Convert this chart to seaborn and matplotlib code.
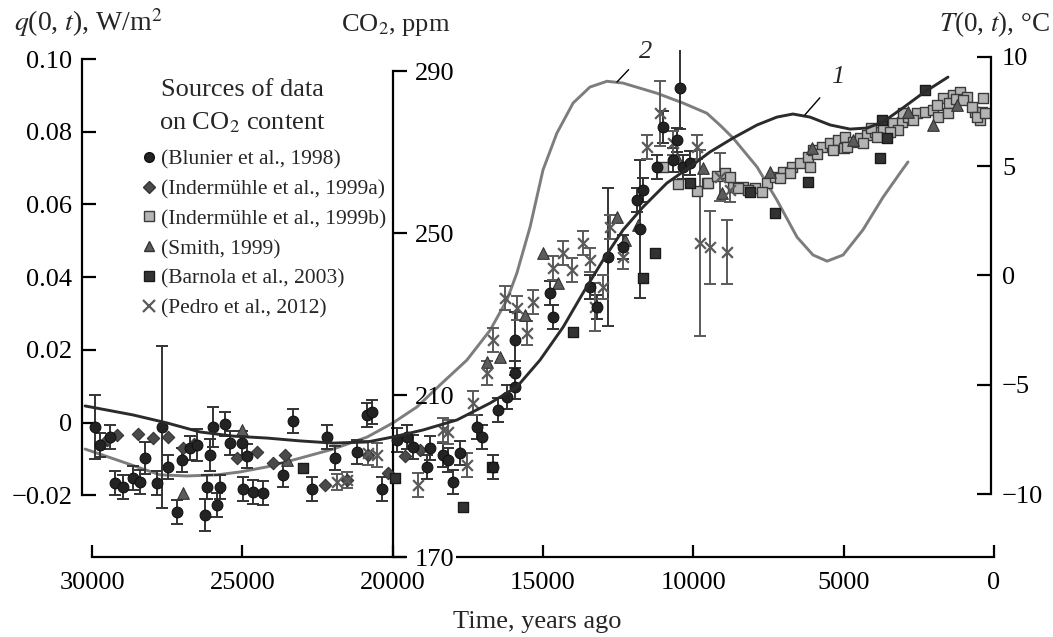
import matplotlib
matplotlib.use('Agg')
import matplotlib.pyplot as plt
from matplotlib.lines import Line2D
from matplotlib.patches import Rectangle
import seaborn as sns

# model curves (years ago)
curve1_years = [30230, 28640, 27500, 26410, 25310, 24180, 23080, 21980, 20850, 19990,
                18990, 17860, 16760, 15870, 15100, 14330, 13670, 13000, 12340, 11670,
                10880, 10110, 9450, 8680, 7880, 7220, 6690, 6120, 5450, 4790,
                4220, 3690, 3030, 2360, 1530]
curve1_T = [-5.97, -6.38, -6.75, -7.16, -7.35, -7.44, -7.57, -7.67, -7.62, -7.39,
            -7.07, -6.61, -5.84, -5.10, -3.87, -2.36, -0.80, 0.71, 2.08, 3.14,
            4.23, 4.97, 5.65, 6.29, 6.89, 7.25, 7.39, 7.25, 6.89, 6.70,
            6.75, 7.03, 7.67, 8.35, 9.08]

curve2_years = [30230, 29170, 28400, 27740, 26840, 25840, 25080, 24180, 23080, 21980,
                20850, 19990, 19190, 18430, 17530, 16760, 16200, 15870, 15430, 15000,
                14540, 14000, 13440, 12870, 12340, 11210, 10340, 9550, 9110, 8680,
                7880, 7220, 6550, 6020, 5550, 5020, 4360, 3690, 3130, 2860]
curve2_q = [-0.0073, -0.0103, -0.0125, -0.0144, -0.0147, -0.0144, -0.0136, -0.0122, -0.0098, -0.0073,
            -0.0040, -0.0001, 0.0043, 0.0103, 0.0172, 0.0254, 0.0337, 0.0411, 0.0538, 0.0695,
            0.0796, 0.0879, 0.0923, 0.0939, 0.0934, 0.0906, 0.0879, 0.0851, 0.0818, 0.0783,
            0.0703, 0.0612, 0.0510, 0.0461, 0.0444, 0.0461, 0.0530, 0.0620, 0.0686, 0.0717]

# CO2 data, ppm
blunier_years = [29900, 29740, 29400, 29240, 28970, 28640, 28400, 28240, 27840, 27670,
                 27470, 27170, 27010, 26740, 26510, 26240, 26180, 26080, 25980, 25840,
                 25740, 25580, 25410, 25010, 24980, 24850, 24650, 24310, 23650, 23320,
                 22680, 22180, 21920, 21190, 20850, 20690, 20360, 19860, 19520, 19320,
                 18860, 18760, 18330, 18160, 17990, 17760, 17200, 17030, 16660, 16500,
                 16200, 15930, 15930, 15930, 14770, 14670, 13440, 13200, 12840, 12340,
                 11870, 11770, 11670, 11210, 11010, 10680, 10540, 10440, 10340, 10110]
blunier_ppm = [202.1, 197.7, 199.6, 188.3, 187.3, 189.5, 188.5, 194.4, 188.3, 202.1,
               192.2, 181.1, 194.0, 196.9, 197.7, 180.4, 187.3, 195.2, 202.1, 182.8,
               187.3, 202.8, 198.1, 198.1, 186.8, 194.9, 186.0, 185.8, 190.2, 203.6,
               186.8, 199.6, 194.4, 195.9, 205.1, 205.8, 186.8, 198.9, 199.6, 197.2,
               192.2, 196.9, 195.2, 194.0, 188.5, 195.7, 202.1, 199.6, 192.2, 206.3,
               209.5, 212.0, 215.4, 223.6, 235.2, 229.3, 236.7, 231.7, 244.0, 246.5,
               258.1, 251.0, 260.6, 266.3, 276.2, 268.0, 273.0, 285.8, 266.3, 267.3]
blunier_err = [8, 3, 3, 3, 3, 3, 3, 4, 3, 20,
               3, 3, 3, 3, 4, 4, 3, 4, 5, 3,
               3, 3, 3, 3, 3, 3, 3, 3, 3, 3,
               3, 3, 3, 3, 3, 3, 3, 3, 3, 3,
               3, 3, 3, 3, 3, 3, 3, 3, 3, 3,
               3, 3, 3, 7, 3, 3, 3, 3, 17, 3,
               3, 17, 3, 3, 4, 3, 3, 10, 3, 3]

inderm_a_years = [29500, 29170, 28470, 27970, 27470, 26970, 26600, 25180, 24510, 23980,
                  23580, 22250, 21520, 20820, 20160, 19600, 19100]
inderm_a_ppm = [199.0, 200.1, 200.4, 199.4, 199.6, 196.9, 198.0, 194.4, 195.9, 193.2,
                195.2, 187.8, 189.0, 195.2, 190.7, 195.0, 196.5]

inderm_b_years = [11010, 10500, 9880, 9550, 9510, 9200, 8950, 8680, 8350, 7950,
                  7550, 7280, 7020, 6720, 6450, 6190, 6020, 5720, 5460, 5190,
                  4960, 4690, 4460, 4220, 3960, 3690, 3360, 3060, 2860, 2560,
                  2300, 2030, 1700, 1360, 1130, 900, 630, 470, 400, 370,
                  1900, 1500, 1250, 3200, 2700, 4100, 5000, 5900,
                  1860, 1530, 1030, 730, 570, 300, 3030, 3460, 3890, 4360,
                  4890, 5360, 6120, 6790, 7120, 7720, 8180, 8510, 8780]
inderm_b_ppm = [266.3, 262.0, 260.5, 262.3, 262.3, 264.0, 264.8, 261.4, 261.4, 261.1,
                262.3, 263.8, 265.1, 266.3, 267.3, 268.8, 270.5, 271.2, 272.2, 273.0,
                273.7, 272.5, 273.5, 274.2, 274.9, 275.9, 277.2, 277.4, 278.6, 279.6,
                279.9, 280.4, 283.3, 284.1, 284.8, 283.6, 279.9, 277.9, 279.9, 283.3,
                281.5, 282.0, 283.0, 275.5, 278.0, 276.0, 271.0, 269.5,
                278.6, 279.6, 282.8, 281.1, 278.6, 279.6, 279.6, 274.9, 273.7, 272.2,
                271.2, 270.5, 266.3, 264.8, 263.6, 260.1, 260.6, 261.1, 263.8]

smith_years = [26970, 25010, 23520, 16860, 16430, 15600, 15000, 14500, 12540, 12270,
               11840, 10540, 9680, 9050, 7450, 6050, 4690, 2860, 2030, 1230]
smith_ppm = [185.8, 201.4, 194.0, 218.1, 219.4, 229.8, 245.1, 237.7, 254.0, 248.3,
             252.0, 268.5, 266.0, 259.9, 265.1, 271.0, 273.0, 279.9, 276.7, 281.6]

barnola_years = [22980, 19920, 17660, 16700, 14000, 11670, 11280, 10110, 8120, 7280,
                 6190, 3790, 3730, 3560, 2300]
barnola_ppm = [192.0, 189.5, 182.3, 192.2, 225.6, 238.9, 245.1, 262.3, 260.1, 254.9,
               262.6, 268.5, 277.9, 273.5, 285.3]

pedro_years = [21850, 21520, 20820, 20520, 19160, 18330, 18160, 17530, 17330, 16860,
               16660, 16260, 15870, 15530, 15330, 14670, 14340, 14040, 13670, 13440,
               13270, 13000, 12770, 12340, 11540, 11110, 10680, 9880, 9780, 9450,
               9110, 8880, 8780]
pedro_ppm = [188.5, 189.0, 195.7, 195.2, 187.8, 201.4, 200.9, 192.7, 208.0, 215.4,
             223.6, 234.0, 231.5, 225.3, 233.0, 241.4, 245.1, 240.9, 247.5, 243.3,
             231.7, 236.7, 251.5, 244.1, 271.2, 279.6, 272.2, 271.2, 247.5, 246.5,
             263.8, 245.3, 260.6]
pedro_err = [2, 2, 3, 3, 3, 3, 3, 3, 3, 3,
             3, 3, 3, 3, 3, 3, 3, 3, 3, 3,
             6, 3, 3, 3, 3, 8, 3, 3, 23, 9,
             6, 8, 3]

legend_labels = ['(Blunier et al., 1998)', '(Indermühle et al., 1999a)',
                 '(Indermühle et al., 1999b)', '(Smith, 1999)',
                 '(Barnola et al., 2003)', '(Pedro et al., 2012)']

sns.set_style('white')
plt.rcParams['font.family'] = ['Liberation Serif', 'DejaVu Serif']
plt.rcParams['mathtext.fontset'] = 'stix'

W, H = 1053, 637
fig = plt.figure(figsize=(W / 100, H / 100), dpi=100)


def fx(px):
    return px / W


def fy(py):
    return 1 - py / H


ax_q = fig.add_axes([fx(82), fy(557), (994 - 82) / W, (557 - 50) / H])
ax_q.set_xlim(30333, 0)
ax_q.set_ylim(-0.0370, 0.1025)
ax_co2 = ax_q.twinx()
ax_co2.set_ylim(170, 295.2)
ax_T = ax_q.twinx()
ax_T.set_ylim(-12.883, 10.32)

# curves
sns.lineplot(x=curve2_years, y=curve2_q, ax=ax_q, color='#7d7d7d', linewidth=2.1)
sns.lineplot(x=curve1_years, y=curve1_T, ax=ax_T, color='#2b2b2b', linewidth=2.1)

# error bars
ax_co2.errorbar(blunier_years, blunier_ppm, yerr=blunier_err, fmt='none', ecolor='#333333',
                elinewidth=1.4, capsize=4, capthick=1.4, zorder=2)
ax_co2.errorbar(pedro_years, pedro_ppm, yerr=pedro_err, fmt='none', ecolor='#5a5a5a',
                elinewidth=1.4, capsize=4, capthick=1.4, zorder=2)

sns.scatterplot(x=inderm_b_years, y=inderm_b_ppm, ax=ax_co2, marker='s', s=60,
                color='#b4b4b4', edgecolor='#3a3a3a', linewidth=1.0, zorder=3)
sns.scatterplot(x=smith_years, y=smith_ppm, ax=ax_co2, marker='^', s=70,
                color='#5c5c5c', edgecolor='#333333', linewidth=0.8, zorder=3)
sns.scatterplot(x=inderm_a_years, y=inderm_a_ppm, ax=ax_co2, marker='D', s=40,
                color='#4a4a4a', edgecolor='#333333', linewidth=0.8, zorder=3)
sns.scatterplot(x=pedro_years, y=pedro_ppm, ax=ax_co2, marker='x', s=60,
                color='#5a5a5a', linewidth=1.6, zorder=3)
sns.scatterplot(x=barnola_years, y=barnola_ppm, ax=ax_co2, marker='s', s=60,
                color='#333333', edgecolor='#1a1a1a', linewidth=1.0, zorder=3)
sns.scatterplot(x=blunier_years, y=blunier_ppm, ax=ax_co2, marker='o', s=60,
                color='#232323', edgecolor='#111111', linewidth=0.8, zorder=4)

# axes styling
for a in (ax_q, ax_co2, ax_T):
    for sp in a.spines.values():
        sp.set_visible(False)
        sp.set_color('black')
        sp.set_linewidth(1.6)
    a.set_xlabel('')
    a.set_ylabel('')

ax_q.spines['left'].set_visible(True)
ax_q.spines['left'].set_bounds(-0.02, 0.10)
ax_q.spines['bottom'].set_visible(True)
ax_q.spines['bottom'].set_bounds(0, 30000)
ax_q.set_yticks([-0.02, 0, 0.02, 0.04, 0.06, 0.08, 0.10])
ax_q.set_yticklabels(['\u22120.02', '0', '0.02', '0.04', '0.06', '0.08', '0.10'])
ax_q.set_xticks([30000, 25000, 20000, 15000, 10000, 5000, 0])
ax_q.set_xticklabels(['30000', '25000', '20000', '15000', '10000', '5000', '0'])
ax_q.tick_params(axis='y', left=True, direction='in', length=10, width=1.6, pad=7,
                 labelsize=19, colors='black')
ax_q.tick_params(axis='x', bottom=True, direction='in', length=9, width=1.6, pad=11,
                 labelsize=19, colors='black')

ax_co2.spines['right'].set_visible(True)
ax_co2.spines['right'].set_position(('data', 20000))
ax_co2.spines['right'].set_bounds(170, 290)
ax_co2.set_yticks([170, 210, 250, 290])
ax_co2.tick_params(axis='y', right=True, direction='out', length=10, width=1.6, pad=6,
                   labelsize=19, colors='black')
# gap in the time axis behind the "170" label (drawn below the tick labels)
ax_co2.add_patch(Rectangle((fx(406), fy(561)), fx(456) - fx(406), fy(552) - fy(561),
                           transform=fig.transFigure, facecolor='white', edgecolor='none',
                           clip_on=False, zorder=0.1))

ax_T.spines['right'].set_visible(True)
ax_T.spines['right'].set_position(('axes', 909 / 912))
ax_T.spines['right'].set_bounds(-10, 10)
ax_T.set_yticks([-10, -5, 0, 5, 10])
ax_T.set_yticklabels(['\u221210', '\u22125', '0', '5', '10'])
ax_T.tick_params(axis='y', right=True, direction='in', length=10, width=1.6, pad=8,
                 labelsize=19, colors='black')

# curve labels
ax_q.annotate('2', xy=(12540, 0.0937), xytext=(11600, 0.1019), fontsize=19,
              style='italic', ha='center', va='center', annotation_clip=False,
              arrowprops=dict(arrowstyle='-', color='black', lw=1.0, shrinkA=7, shrinkB=0))
ax_T.annotate('1', xy=(6290, 7.35), xytext=(5190, 9.08), fontsize=19,
              style='italic', ha='center', va='center', annotation_clip=False,
              arrowprops=dict(arrowstyle='-', color='black', lw=1.0, shrinkA=9, shrinkB=0))

# axis titles
fig.text(fx(14), fy(31), '$q$(0, $t$), W/m$^2$', fontsize=20, ha='left', va='baseline')
fig.text(fx(450), fy(31), 'CO$_2$, ppm', fontsize=19, ha='right', va='baseline')
fig.text(fx(1050), fy(31), '$T$(0, $t$), °C', fontsize=19.5, ha='right', va='baseline')
fig.text(fx(537), fy(628), 'Time, years ago', fontsize=19, ha='center', va='baseline')

# legend
fig.text(fx(242), fy(90), 'Sources of data', fontsize=19, ha='center', va='center')
fig.text(fx(242), fy(123), 'on CO$_2$ content', fontsize=19, ha='center', va='center')
handles = [
    Line2D([], [], ls='none', marker='o', ms=7, mfc='#232323', mec='#111111'),
    Line2D([], [], ls='none', marker='D', ms=6, mfc='#4a4a4a', mec='#333333'),
    Line2D([], [], ls='none', marker='s', ms=7, mfc='#b4b4b4', mec='#3a3a3a'),
    Line2D([], [], ls='none', marker='^', ms=7, mfc='#5c5c5c', mec='#333333'),
    Line2D([], [], ls='none', marker='s', ms=7, mfc='#333333', mec='#1a1a1a'),
    Line2D([], [], ls='none', marker='x', ms=8, mec='#5a5a5a', mew=1.6),
]
ax_T.legend(handles=handles, labels=legend_labels, loc='upper left',
            bbox_to_anchor=(fx(141), fy(149)), bbox_transform=fig.transFigure,
            frameon=False, fontsize=15.5, handlelength=0.7, handletextpad=0.25,
            labelspacing=0.46, borderpad=0, borderaxespad=0)

fig.savefig('out.png', dpi=100)
